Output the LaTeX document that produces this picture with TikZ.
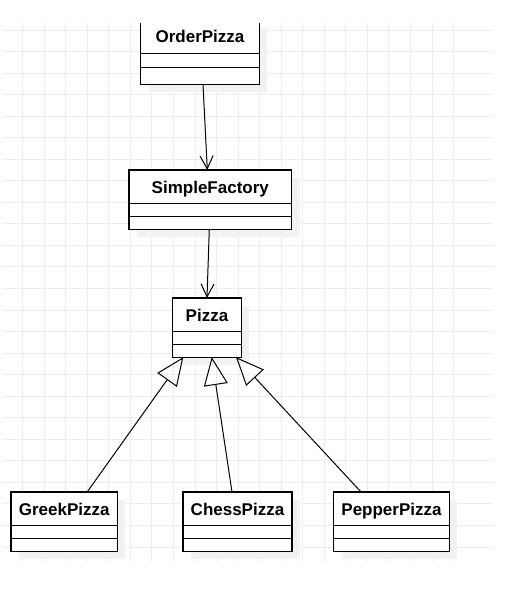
\documentclass[tikz,border=0pt]{standalone}
\usepackage{fontspec}
\setmainfont{Liberation Sans}
\usetikzlibrary{arrows.meta,positioning,shadows}

\begin{document}
\begin{tikzpicture}[x=1pt,y=-1pt,line join=miter,
    gridline/.style={draw=black!7,line width=0.9pt},
    class name/.style={draw,fill=white,line width=1.2pt,inner sep=0pt,outer sep=0pt,
      minimum height=33.5pt,text height=16pt,text depth=3pt,
      font=\bfseries\fontsize{17}{20}\selectfont,
      drop shadow={shadow xshift=8pt,shadow yshift=-8pt,fill=black!5,opacity=1}},
    class part/.style={draw,fill=white,line width=1.2pt,inner sep=0pt,outer sep=0pt,
      minimum height=13pt,node distance=0pt,
      drop shadow={shadow xshift=8pt,shadow yshift=-8pt,fill=black!5,opacity=1}},
    dep/.style={-{Straight Barb[length=13pt,width=13pt,line width=1pt]},line width=1pt},
    gen/.style={-{Triangle[open,length=28pt,width=24pt,line width=1pt]},line width=1pt}]
  \useasboundingbox (0,0) rectangle (510,597);
  % background grid
  \foreach \k in {1,...,21}
    \draw[gridline] (1.16+21.54*\k,23) -- (1.16+21.54*\k,562);
  \foreach \j in {0,...,24}
    \draw[gridline] (2,30+21.54*\j) -- (493,30+21.54*\j);
  \begin{scope}
  \clip (2,23) rectangle (493,562);
  % classes
  \node[class name,minimum width=118.5pt] (order) at (200,36.4) {OrderPizza};
  \node[class part,minimum width=118.5pt,minimum height=14pt] (order-a) [below=of order] {};
  \node[class part,minimum width=118.5pt,minimum height=17.3pt] (order-b) [below=of order-a] {};
  \node[class name,minimum width=162.5pt] (factory) at (210.3,186.7) {SimpleFactory};
  \node[class part,minimum width=162.5pt] (factory-a) [below=of factory] {};
  \node[class part,minimum width=162.5pt,minimum height=12.7pt] (factory-b) [below=of factory-a] {};
  \node[class name,minimum width=68.6pt] (pizza) at (207,314.7) {Pizza};
  \node[class part,minimum width=68.6pt] (pizza-a) [below=of pizza] {};
  \node[class part,minimum width=68.6pt,minimum height=12.7pt] (pizza-b) [below=of pizza-a] {};
  \node[class name,minimum width=106.3pt] (greek) at (64.2,508.7) {GreekPizza};
  \node[class part,minimum width=106.3pt] (greek-a) [below=of greek] {};
  \node[class part,minimum width=106.3pt,minimum height=12.7pt] (greek-b) [below=of greek-a] {};
  \node[class name,minimum width=109pt] (chess) at (237.5,508.7) {ChessPizza};
  \node[class part,minimum width=109pt] (chess-a) [below=of chess] {};
  \node[class part,minimum width=109pt,minimum height=12.7pt] (chess-b) [below=of chess-a] {};
  \node[class name,minimum width=115.6pt] (pepper) at (391.5,508.7) {PepperPizza};
  \node[class part,minimum width=115.6pt] (pepper-a) [below=of pepper] {};
  \node[class part,minimum width=115.6pt,minimum height=12.7pt] (pepper-b) [below=of pepper-a] {};
  % associations
  \path
    ([xshift=3pt]order-b.south) edge [dep] ([xshift=-3pt]factory.north)
    ([xshift=-1pt]factory-b.south) edge [dep] (pizza.north);
  % generalizations
  \path
    ([xshift=23pt]greek.north) edge [gen] ([xshift=-23.7pt]pizza-b.south)
    ([xshift=-5.5pt]chess.north) edge [gen] ([xshift=4.7pt]pizza-b.south)
    ([xshift=-30.5pt]pepper.north) edge [gen] ([xshift=29pt]pizza-b.south);
  \end{scope}
\end{tikzpicture}
\end{document}
